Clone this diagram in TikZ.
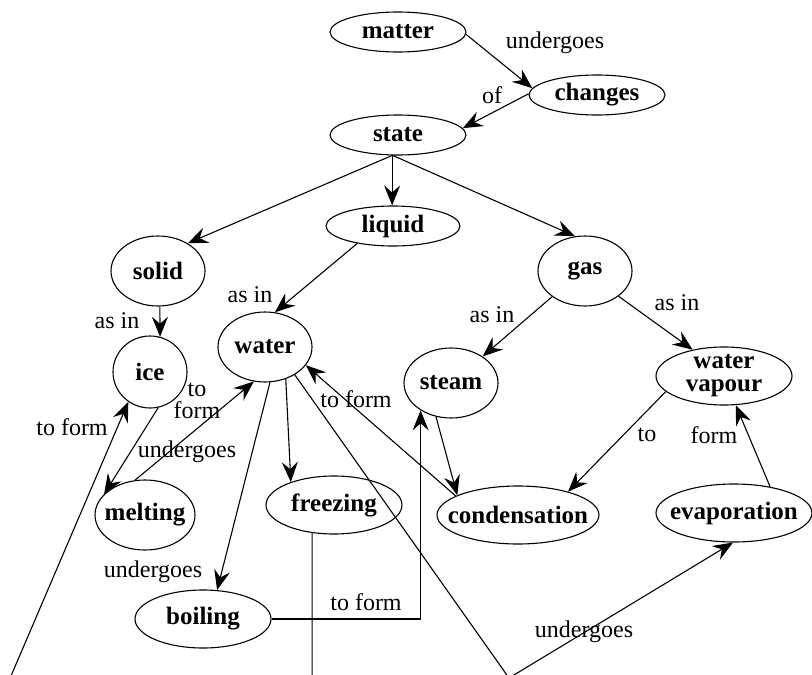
\documentclass[tikz,border=0pt]{standalone}
\usepackage{fontspec}
\setmainfont{Liberation Serif}
\usetikzlibrary{shapes.geometric,arrows.meta}
\newcommand\nmfont{\fontsize{25}{23}\selectfont\bfseries}
\newcommand\lbfont{\fontsize{24}{22}\selectfont}
\begin{document}
\begin{tikzpicture}[x=1pt,y=-1pt,
  ell/.style={ellipse, draw, line width=1.1pt, inner sep=0pt},
  lab/.style={font=\lbfont, inner sep=0pt, align=center},
  arr/.style={-{Stealth[length=20pt,width=16pt,inset=7pt]}, line width=1.1pt}]
\clip (0,0) rectangle (812,675);
% concept nodes
\node[ell, minimum width=136pt, minimum height=40pt, label={[font=\nmfont]center:matter}] (matter) at (398,32) {};
\node[ell, minimum width=136pt, minimum height=40pt, label={[font=\nmfont]center:changes}] (changes) at (597,95) {};
\node[ell, minimum width=136pt, minimum height=40pt, label={[font=\nmfont]center:state}] (state) at (398,135) {};
\node[ell, minimum width=134pt, minimum height=40pt, label={[font=\nmfont]center:liquid}] (liquid) at (393,226) {};
\node[ell, minimum width=94pt, minimum height=70pt, label={[font=\nmfont]center:solid}] (solid) at (158,271) {};
\node[ell, minimum width=94pt, minimum height=70pt, label={[font=\nmfont]center:water}] (water) at (265,347) {};
\node[ell, minimum width=74pt, minimum height=72pt, label={[font=\nmfont]center:ice}] (ice) at (150,372) {};
\node[ell, minimum width=94pt, minimum height=70pt, label={[font=\nmfont]center:gas}] (gas) at (585,271) {};
\node[ell, minimum width=94pt, minimum height=70pt, label={[font=\nmfont]center:steam}] (steam) at (451,383) {};
\node[ell, minimum width=136pt, minimum height=58pt, label={[font=\nmfont, align=center]center:water\\vapour}] (vapour) at (724,376) {};
\node[ell, minimum width=100pt, minimum height=70pt, label={[font=\nmfont]center:melting}] (melting) at (145,515) {};
\node[ell, minimum width=136pt, minimum height=58pt, label={[font=\nmfont]center:freezing}] (freezing) at (334,505) {};
\node[ell, minimum width=136pt, minimum height=58pt, label={[font=\nmfont]center:boiling}] (boiling) at (203,619) {};
\node[ell, minimum width=162pt, minimum height=58pt, label={[font=\nmfont]center:condensation}] (condensation) at (518,515) {};
\node[ell, minimum width=156pt, minimum height=58pt, label={[font=\nmfont]center:evaporation}] (evaporation) at (734,513) {};
% connectors
\draw[arr] (matter.-2) -- (changes.174);
\draw[arr] (changes.179) -- (state.6);
\draw[arr] (state.-106) -- (solid.43);
\draw[arr] (state.-106) -- (state.-106 |- liquid.north);
\draw[arr] (state.-104) -- (gas.106);
\draw[arr] (liquid.-154) -- (water.74);
\draw[arr] (solid.-87) -- (ice.74);
\draw[arr] (gas.-142) -- (steam.40);
\draw[arr] (gas.-37) -- (vapour.140);
\draw[arr] (ice.-77) -- (melting.153);
\draw[arr] (melting.106) -- (water.-108);
\draw[arr] (water.-57) -- (freezing.152);
\draw[arr] (water.-82) -- (boiling.64);
\draw[arr] (water.-43) -- (509,678) -- (evaporation.-92);
\draw[arr] (condensation.163) -- (water.-24);
\draw[arr] (steam.-114) -- (condensation.162);
\draw[arr] (boiling.east) -| (steam.-138);
\draw[arr] (vapour.-165) -- (condensation.25);
\draw[arr] (evaporation.36) -- (vapour.-68);
\draw[arr] (freezing.-128) |- (5,690) -- (ice.-126);
% connector labels
\node[lab] (l1) at (555,43) {undergoes};
\node[lab] (l2) at (492,95) {of};
\node[lab] (l3) at (250,295) {as in};
\node[lab] (l4) at (117,321) {as in};
\node[lab] (l5) at (492,315) {as in};
\node[lab] (l6) at (677,303) {as in};
\node[lab] (l7) at (197,401) {to\\form};
\node[lab] (l8) at (72,427) {to form};
\node[lab] (l9) at (187,452) {undergoes};
\node[lab] (l10) at (153,572) {undergoes};
\node[lab] (l11) at (356,399) {to form};
\node[lab] (l12) at (366,602) {to form};
\node[lab] (l13) at (647,435) {to};
\node[lab] (l14) at (714,435) {form};
\node[lab] (l15) at (584,632) {undergoes};
\end{tikzpicture}
\end{document}
